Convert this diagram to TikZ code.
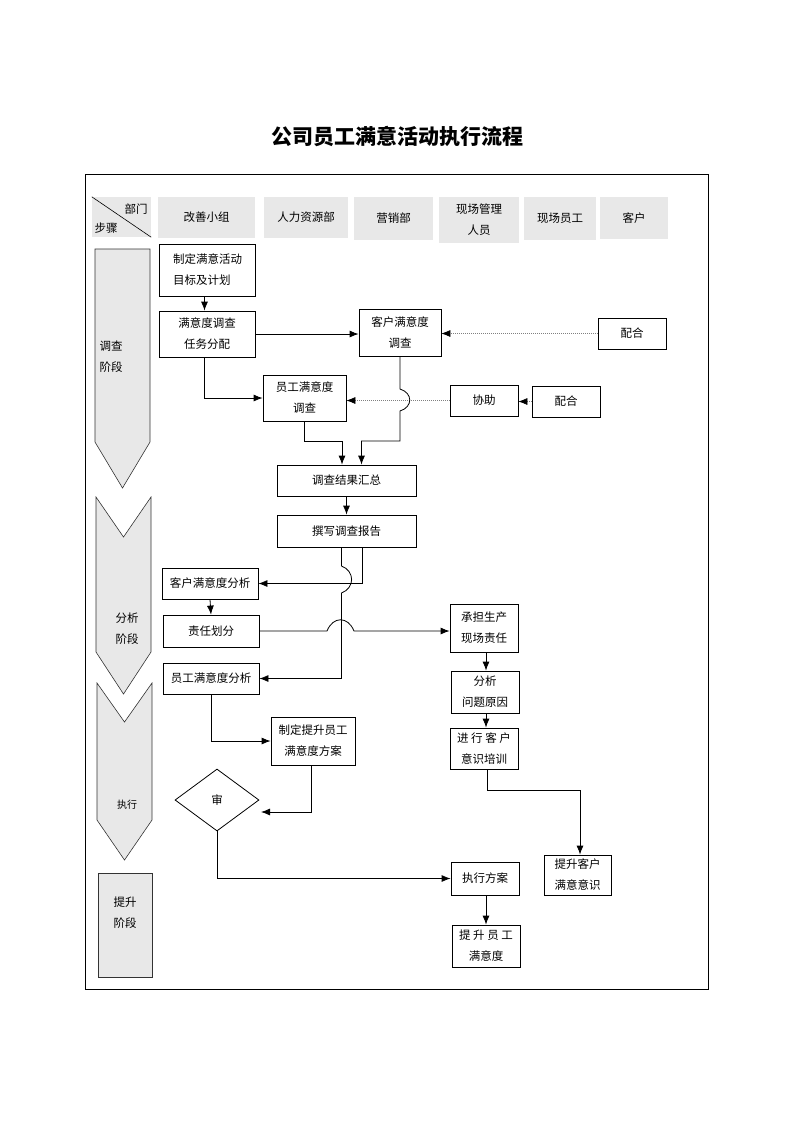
\documentclass[tikz,border=0pt]{standalone}
\usepackage{fontspec}
\setmainfont{Noto Sans CJK SC}
\usetikzlibrary{shapes.geometric,arrows.meta}
\definecolor{hdrgray}{HTML}{E8E8E8}
\begin{document}
\begin{tikzpicture}[x=1pt,y=-1pt,
    font=\fontsize{11.5}{21}\selectfont,
    box/.style={draw,line width=0.8pt,align=center,inner sep=0pt},
    hdr/.style={fill=hdrgray,inner sep=0pt,align=center},
    stage/.style={fill=hdrgray,draw=black!80,line width=0.6pt},
    arr/.style={line width=0.8pt,-{Latex[length=9pt,width=7pt]}},
    dotarr/.style={gray,line width=0.6pt,dash pattern=on 1pt off 1pt,
        -{Latex[length=9pt,width=7pt,color=black]}}]
    \useasboundingbox (0,0) rectangle (793,1122);

    %% TITLE AND FRAME
    \node[font=\fontsize{21}{24}\selectfont\bfseries] (title) at (397,136) {公司员工满意活动执行流程};
    \draw[line width=0.7pt] (85,174) rectangle (708,989);

    %% HEADER
    % Corner
    \node[hdr,minimum width=59,minimum height=40] (corner) at (121.5,217) {};
    \draw[line width=0.6pt] (corner.north west) -- (corner.south east);
    \node (hdept) at (136,209) {部门};
    \node (hstep) at (106,228) {步骤};
    % Departments
    \node[hdr,minimum width=97,minimum height=41] (h1) at (206.5,217.5) {改善小组};
    \node[hdr,minimum width=84,minimum height=41] (h2) at (306,217.5) {人力资源部};
    \node[hdr,minimum width=79,minimum height=43] (h3) at (393.5,218.5) {营销部};
    \node[hdr,minimum width=80,minimum height=46] (h4) at (479,220) {现场管理\\人员};
    \node[hdr,minimum width=72,minimum height=43] (h5) at (560,218.5) {现场员工};
    \node[hdr,minimum width=68,minimum height=42] (h6) at (634,218) {客户};

    %% STAGES
    % Survey
    \draw[stage] (95,249) -- (150,249) -- (150,442) -- (122.5,488) -- (95,442) -- cycle;
    \node[align=left,anchor=west] (st1) at (96,357) {调查\\阶段};
    % Analysis
    \draw[stage] (96,497) -- (123.5,537) -- (151,497) -- (151,652) -- (123.5,694) -- (96,652) -- cycle;
    \node[align=center] (st2) at (127,629) {分析\\阶段};
    % Execution
    \draw[stage] (97,683) -- (124.5,722) -- (152,683) -- (152,820) -- (124.5,860) -- (97,820) -- cycle;
    \node[font=\fontsize{10}{12}\selectfont] (st3) at (127,805) {执行};
    % Improvement
    \draw[stage] (98,873) rectangle (152,977);
    \node[align=center] (st4) at (125,913) {提升\\阶段};

    %% SURVEY
    \node[box,align=left,minimum width=96,minimum height=52] (plan) at (207.5,270) {制定满意活动\\目标及计划};
    \node[box,minimum width=96,minimum height=46] (assign) at (207,334) {满意度调查\\任务分配};
    \node[box,minimum width=82,minimum height=47] (custsv) at (400,332.5) {客户满意度\\调查};
    \node[box,minimum width=68,minimum height=31] (coop1) at (632,333.5) {配合};
    \node[box,minimum width=83,minimum height=46] (staffsv) at (304.5,398) {员工满意度\\调查};
    \node[box,minimum width=68,minimum height=31] (assist) at (484,400.5) {协助};
    \node[box,minimum width=68,minimum height=31] (coop2) at (566,401.5) {配合};
    \node[box,minimum width=139,minimum height=31] (summary) at (346.5,480.5) {调查结果汇总};
    \node[box,minimum width=139,minimum height=32] (report) at (346.5,531) {撰写调查报告};

    %% ANALYSIS
    \node[box,minimum width=96,minimum height=31] (custan) at (210,583.5) {客户满意度分析};
    \node[box,minimum width=96,minimum height=32] (duty) at (211,631) {责任划分};
    \node[box,minimum width=96,minimum height=31] (staffan) at (211,678.5) {员工满意度分析};
    \node[box,minimum width=68,minimum height=48] (site) at (484,628) {承担生产\\现场责任};
    \node[box,minimum width=68,minimum height=42] (cause) at (485,692) {分析\\问题原因};
    \node[box,minimum width=68,minimum height=41] (train) at (484,748.5) {进 行 客 户\\意识培训};

    %% EXECUTION
    \node[box,minimum width=84,minimum height=48] (scheme) at (313,741) {制定提升员工\\满意度方案};
    \node[draw,line width=0.8pt,diamond,aspect=1.35,inner sep=0pt,
        minimum width=84,minimum height=62] (check) at (217,800) {审};
    \coordinate (checkin) at (261,812);
    \node[box,minimum width=68,minimum height=33] (run) at (485,878.5) {执行方案};
    \node[box,minimum width=67,minimum height=40] (custup) at (577.5,875) {提升客户\\满意意识};
    \node[box,minimum width=68,minimum height=42] (staffup) at (486,946) {提 升 员 工\\满意度};
    \coordinate (trainbend) at (580,790);

    %% CONNECTORS
    % Survey
    \draw[arr] ([xshift=-3]plan.south) -- ([xshift=-3]plan.south |- assign.north);
    \draw[arr] (assign.east) -- (assign.east -| custsv.west);
    \draw[dotarr] (coop1.west) -- (custsv.east |- coop1.west);
    \draw[arr] ([xshift=-3]assign.south) |- (staffsv.west);
    \draw[dotarr] (assist.west) -- (staffsv.east |- assist.west);
    \draw[dotarr] (coop2.west) -- (assist.east |- coop2.west);
    \draw[arr] (custsv.south) -- (400,389) .. controls (413,393) and (413,407) .. (400,411)
        -- (400,441) -| ([xshift=15]summary.north);
    \draw[arr] (staffsv.south) |- (342,441) -- ([xshift=-4.5]summary.north);
    \draw[arr] (summary.south) -- (report.north);
    % Analysis
    \draw[arr] ([xshift=16]report.south) |- (custan.east);
    \draw[arr] ([xshift=-5]report.south) -- (341.5,566) .. controls (355,571) and (355,588) .. (341.5,593)
        |- (staffan.east);
    \draw[arr] (duty.east) -- (327,631) .. controls (333,616) and (348,616) .. (354,631)
        -- (site.west |- duty.east);
    \draw[arr] (custan.south) -- (duty.north);
    \draw[arr] ([xshift=2]site.south) -- ([xshift=2]site.south |- cause.north);
    \draw[arr] ([xshift=1]cause.south) -- ([xshift=1]cause.south |- train.north);
    \draw[arr] ([xshift=3]train.south) |- (trainbend) -- (trainbend |- custup.north);
    % Execution
    \draw[arr] (staffan.south) |- (scheme.west);
    \draw[arr] ([xshift=-2]scheme.south) |- (checkin);
    \draw[arr] (check.south) |- (run.west);
    \draw[arr] ([xshift=1]run.south) -- ([xshift=1]run.south |- staffup.north);
\end{tikzpicture}
\end{document}
